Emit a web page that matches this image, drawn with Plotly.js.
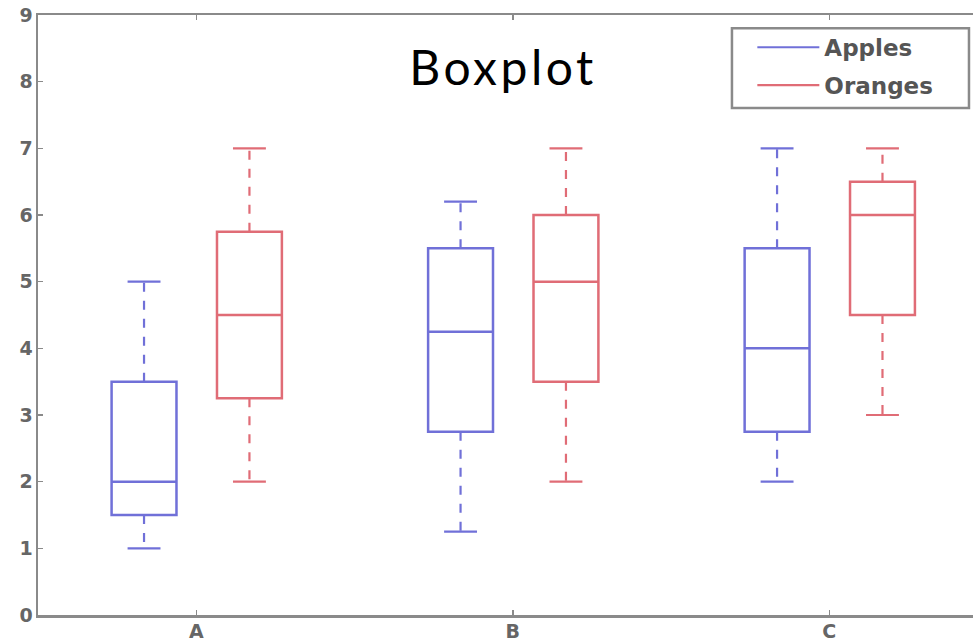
<!DOCTYPE html>
<html>
<head>
<meta charset="utf-8">
<script src="https://cdn.plot.ly/plotly-3.0.1.min.js"></script>
<style>
html,body{margin:0;padding:0;background:#fff;}
#chart{width:973px;height:642px;}
.gtitle{letter-spacing:3.5px;}
</style>
</head>
<body>
<div id="chart"></div>
<script>
// ---- data ----
const categories = ['A', 'B', 'C'];
const seriesNames = ['Apples', 'Oranges'];
const applesLow    = [1.0, 1.25, 2.0];
const applesQ1     = [1.5, 2.75, 2.75];
const applesMedian = [2.0, 4.25, 4.0];
const applesQ3     = [3.5, 5.5, 5.5];
const applesHigh   = [5.0, 6.2, 7.0];
const orangesLow    = [2.0, 2.0, 3.0];
const orangesQ1     = [3.25, 3.5, 4.5];
const orangesMedian = [4.5, 5.0, 6.0];
const orangesQ3     = [5.75, 6.0, 6.5];
const orangesHigh   = [7.0, 7.0, 7.0];
const yTicks = [0,1,2,3,4,5,6,7,8,9];

// ---- styling ----
const colors = {Apples: '#7070d8', Oranges: '#e06c76'};
const offsets = {Apples: -0.165, Oranges: 0.168};
const boxW = 0.205, capHalf = 0.052;

const series = [
  {name: seriesNames[0], low: applesLow, q1: applesQ1, med: applesMedian, q3: applesQ3, high: applesHigh},
  {name: seriesNames[1], low: orangesLow, q1: orangesQ1, med: orangesMedian, q3: orangesQ3, high: orangesHigh}
];

const traces = [];
series.forEach(s => {
  const pos = categories.map((c, i) => i + 1 + offsets[s.name]);
  const col = colors[s.name];
  // box body + median
  traces.push({
    type: 'box', name: s.name, x: pos, q1: s.q1, median: s.med, q3: s.q3,
    lowerfence: s.q1, upperfence: s.q3, width: boxW, whiskerwidth: 0,
    fillcolor: 'rgba(0,0,0,0)', line: {color: col, width: 2.5},
    showlegend: false, hoverinfo: 'skip', boxpoints: false
  });
  // dashed whiskers
  const wx = [], wy = [];
  pos.forEach((p, i) => {
    wx.push(p, p, null, p, p, null);
    wy.push(s.q3[i], s.high[i], null, s.q1[i], s.low[i], null);
  });
  traces.push({
    type: 'scatter', mode: 'lines', x: wx, y: wy, showlegend: false,
    line: {color: col, width: 2.2, dash: '9px,9px'}, hoverinfo: 'skip'
  });
  // caps (solid) - carry legend entry
  const cx = [], cy = [];
  pos.forEach((p, i) => {
    cx.push(p - capHalf, p + capHalf, null, p - capHalf, p + capHalf, null);
    cy.push(s.high[i], s.high[i], null, s.low[i], s.low[i], null);
  });
  traces.push({
    type: 'scatter', mode: 'lines', x: cx, y: cy, name: s.name,
    legendgroup: s.name, line: {color: col, width: 2.2}, hoverinfo: 'skip'
  });
});

const axisCommon = {
  showline: true, linecolor: '#8a8a8a', linewidth: 2.5,
  ticks: 'inside', ticklen: 5, tickcolor: '#8a8a8a', tickwidth: 1.5,
  showgrid: false, zeroline: false,
  tickfont: {family: 'DejaVu Sans', size: 19, weight: 'bold', color: '#666'}
};

const layout = {
  width: 973, height: 642,
  margin: {l: 38, r: 0, t: 15, b: 27},
  paper_bgcolor: '#fff', plot_bgcolor: '#fff',
  title: {
    text: 'Boxplot', font: {family: 'Lato', size: 48, color: '#000'},
    x: 0.517, xref: 'container', xanchor: 'center',
    y: 0.893, yref: 'container', yanchor: 'middle'
  },
  xaxis: Object.assign({}, axisCommon, {
    range: [0.5, 3.454], tickmode: 'array', tickvals: [1, 2, 3], ticktext: categories,
    mirror: 'ticks', ticklabelstandoff: -2
  }),
  yaxis: Object.assign({}, axisCommon, {
    range: [0, 9], tickmode: 'array', tickvals: yTicks, ticktext: yTicks.map(String),
    ticklabelstandoff: -1
  }),
  legend: {
    x: 0.764, xanchor: 'left', y: 0.982, yanchor: 'top',
    borderwidth: 0, bgcolor: 'rgba(0,0,0,0)',
    font: {family: 'DejaVu Sans', size: 23, weight: 'bold', color: '#555'},
    traceorder: 'grouped', tracegroupgap: 5, itemwidth: 62
  },
  shapes: [{
    type: 'rect', xref: 'paper', yref: 'paper',
    x0: 0.7422, x1: 0.9957, y0: 0.845, y1: 0.978,
    line: {color: '#8a8a8a', width: 2.5}, fillcolor: '#fff', layer: 'below'
  }],
  showlegend: true
};

Plotly.newPlot('chart', traces, layout, {displayModeBar: false, staticPlot: true});
</script>
</body>
</html>
